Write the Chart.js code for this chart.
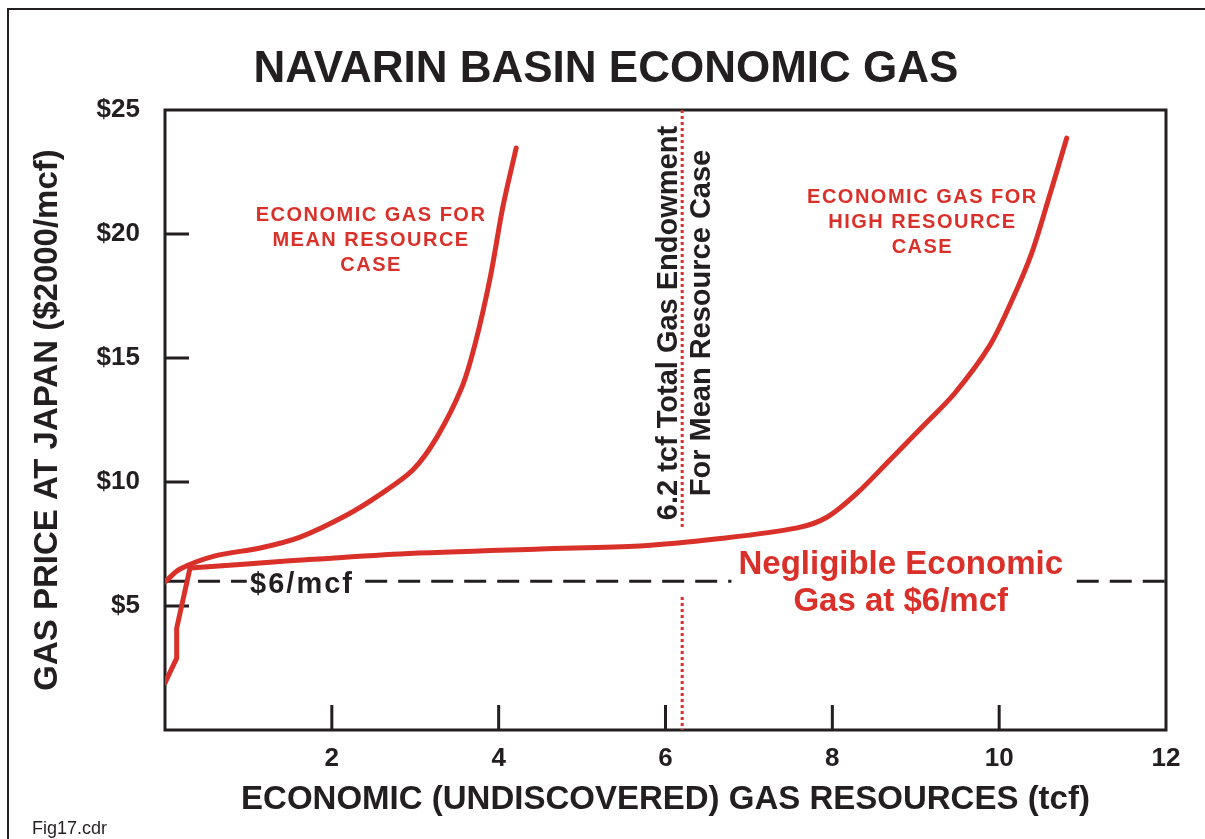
<!DOCTYPE html>
<html>
<head>
<meta charset="utf-8">
<title>Navarin Basin Economic Gas</title>
<script src="https://cdn.jsdelivr.net/npm/chart.js@4.4.0/dist/chart.umd.min.js"></script>
<style>
    html, body { margin: 0; padding: 0; background: #fff; }
    canvas { display: block; }
</style>
</head>
<body>
<canvas id="gasChart" width="1205" height="839"></canvas>
<script>
// values: x = gas resources (tcf), y = price ($2000/mcf)
const meanX = [0, 0.18, 0.60, 1.14, 1.62, 2.18, 2.58, 2.97, 3.26, 3.56, 3.72, 3.90, 4.05, 4.21];
const meanY = [5.97, 6.49, 7.02, 7.34, 7.78, 8.67, 9.5, 10.48, 11.81, 13.83, 15.6, 18.27, 21.09, 23.47];

// high resource case: steep start along the price axis, then the long flat run
const highStartX = [0, 0.14, 0.14, 0.30];
const highStartY = [1.9, 2.9, 4.1, 6.53];
const highX = [0.30, 1.5, 2.82, 4.5, 5.69, 6.63, 7.58, 7.94, 8.3, 8.69, 9.1, 9.47, 9.89, 10.15, 10.39, 10.6, 10.81];
const highY = [6.53, 6.82, 7.1, 7.3, 7.42, 7.71, 8.15, 8.59, 9.56, 10.89, 12.3, 13.59, 15.52, 17.3, 19.23, 21.5, 23.87];

// $6/mcf reference line (gaps where the labels sit)
const sixX = [0, 0.98, 0.99, 2.4, 6.79, 6.8, 10.93, 12];
const sixY = [6, 6, null, 6, 6, null, 6, 6];

// 6.2 tcf total endowment line (broken around the $6 labels)
const endowX = [6.2, 6.2, 6.2, 6.2, 6.2];
const endowY = [25, 8.15, null, 5.36, 0];

const xTicks = [2, 4, 6, 8, 10, 12];
const yTicks = [5, 10, 15, 20, 25];

const RED = '#d9302a';
const INK = '#231f20';
const FONT = "'Liberation Sans', Arial, sans-serif";

const pts = (xs, ys) => xs.map((x, i) => ({ x: x, y: ys[i] }));

const decor = {
    id: 'decor',
    beforeDraw(chart) {
        const ctx = chart.ctx;
        ctx.save();
        ctx.fillStyle = '#fff';
        ctx.fillRect(0, 0, chart.width, chart.height);
        // outer figure frame, cut off at right and bottom
        ctx.strokeStyle = INK;
        ctx.lineWidth = 2;
        ctx.strokeRect(8, 9, chart.width + 20, chart.height + 20);
        ctx.fillStyle = INK;
        ctx.textAlign = 'center';
        ctx.textBaseline = 'alphabetic';
        ctx.font = 'bold 44px ' + FONT;
        ctx.fillText('NAVARIN BASIN ECONOMIC GAS', 606, 82);
        ctx.textAlign = 'left';
        ctx.font = '18px ' + FONT;
        ctx.fillText('Fig17.cdr', 32, 834);
        ctx.restore();
    },
    beforeDatasetsDraw(chart) {
        const { ctx, chartArea: a, scales: { x, y } } = chart;
        ctx.save();
        ctx.strokeStyle = INK;
        ctx.lineWidth = 3;
        ctx.strokeRect(a.left, a.top, a.right - a.left, a.bottom - a.top);
        // inward tick marks
        ctx.beginPath();
        xTicks.slice(0, -1).forEach(v => {
            const px = x.getPixelForValue(v);
            ctx.moveTo(px, a.bottom);
            ctx.lineTo(px, a.bottom - 25);
        });
        yTicks.slice(0, -1).forEach(v => {
            const py = y.getPixelForValue(v);
            ctx.moveTo(a.left, py);
            ctx.lineTo(a.left + 24, py);
        });
        ctx.stroke();
        ctx.restore();
    },
    afterDatasetsDraw(chart) {
        const { ctx, scales: { x, y } } = chart;
        const X = v => x.getPixelForValue(v);
        const Y = v => y.getPixelForValue(v);
        ctx.save();
        ctx.textBaseline = 'alphabetic';

        ctx.fillStyle = RED;
        ctx.textAlign = 'center';
        ctx.font = 'bold 20px ' + FONT;
        ctx.letterSpacing = '1.5px';
        ['ECONOMIC GAS FOR', 'MEAN RESOURCE', 'CASE'].forEach((t, i) => {
            ctx.fillText(t, X(2.47), Y(20.52) + i * 25);
        });
        ['ECONOMIC GAS FOR', 'HIGH RESOURCE', 'CASE'].forEach((t, i) => {
            ctx.fillText(t, X(9.08), Y(21.25) + i * 25);
        });

        ctx.letterSpacing = '0px';
        ctx.font = 'bold 33px ' + FONT;
        ctx.fillText('Negligible Economic', X(8.82), Y(6.29));
        ctx.fillText('Gas at $6/mcf', X(8.82), Y(6.29) + 37);

        ctx.fillStyle = INK;
        ctx.textAlign = 'left';
        ctx.font = 'bold 29px ' + FONT;
        ctx.letterSpacing = '2px';
        ctx.fillText('$6/mcf', X(1.02), Y(5.52));

        ctx.letterSpacing = '0px';
        ctx.translate(X(6.14), Y(16.41));
        ctx.rotate(-Math.PI / 2);
        ctx.textAlign = 'center';
        ctx.fillText('6.2 tcf Total Gas Endowment', 0, 0);
        ctx.fillText('For Mean Resource Case', 0, 33);
        ctx.restore();
    }
};

const curve = (data, tension) => ({
    data: data,
    borderColor: RED,
    borderWidth: 5,
    pointRadius: 0,
    tension: tension,
    borderCapStyle: 'round',
    borderJoinStyle: 'round',
    order: 0
});

new Chart(document.getElementById('gasChart'), {
    type: 'line',
    data: {
        datasets: [
            curve(pts(meanX, meanY), 0.3),
            curve(pts(highStartX, highStartY), 0),
            curve(pts(highX, highY), 0.3),
            {
                data: pts(sixX, sixY),
                borderColor: INK,
                borderWidth: 3,
                borderDash: [22, 11],
                pointRadius: 0,
                spanGaps: false,
                order: 2
            },
            {
                data: pts(endowX, endowY),
                borderColor: RED,
                borderWidth: 3,
                borderDash: [3, 3],
                pointRadius: 0,
                spanGaps: false,
                order: 1
            }
        ]
    },
    options: {
        responsive: false,
        animation: false,
        layout: { padding: { top: 110, right: 39, left: 0, bottom: 0 } },
        plugins: {
            legend: { display: false },
            tooltip: { enabled: false }
        },
        scales: {
            x: {
                type: 'linear',
                min: 0,
                max: 12,
                afterFit: s => { s.height = 109; },
                afterBuildTicks: s => { s.ticks = xTicks.map(v => ({ value: v })); },
                grid: { display: false, drawTicks: false },
                border: { display: false },
                ticks: {
                    padding: 13,
                    color: INK,
                    maxRotation: 0,
                    font: { family: FONT, size: 26, weight: 'bold' }
                },
                title: {
                    display: true,
                    text: 'ECONOMIC (UNDISCOVERED) GAS RESOURCES (tcf)',
                    color: INK,
                    padding: { top: 0, bottom: 19 },
                    font: { family: FONT, size: 33, weight: 'bold' }
                }
            },
            y: {
                type: 'linear',
                min: 0,
                max: 25,
                afterFit: s => { s.width = 165; },
                afterBuildTicks: s => { s.ticks = yTicks.map(v => ({ value: v })); },
                grid: { display: false, drawTicks: false },
                border: { display: false },
                ticks: {
                    padding: 25,
                    color: INK,
                    font: { family: FONT, size: 26, weight: 'bold' },
                    callback: v => '$' + v
                },
                title: {
                    display: true,
                    text: 'GAS PRICE AT JAPAN ($2000/mcf)',
                    color: INK,
                    padding: { top: 28, bottom: 0 },
                    font: { family: FONT, size: 33, weight: 'bold' }
                }
            }
        }
    },
    plugins: [decor]
});
</script>
</body>
</html>
